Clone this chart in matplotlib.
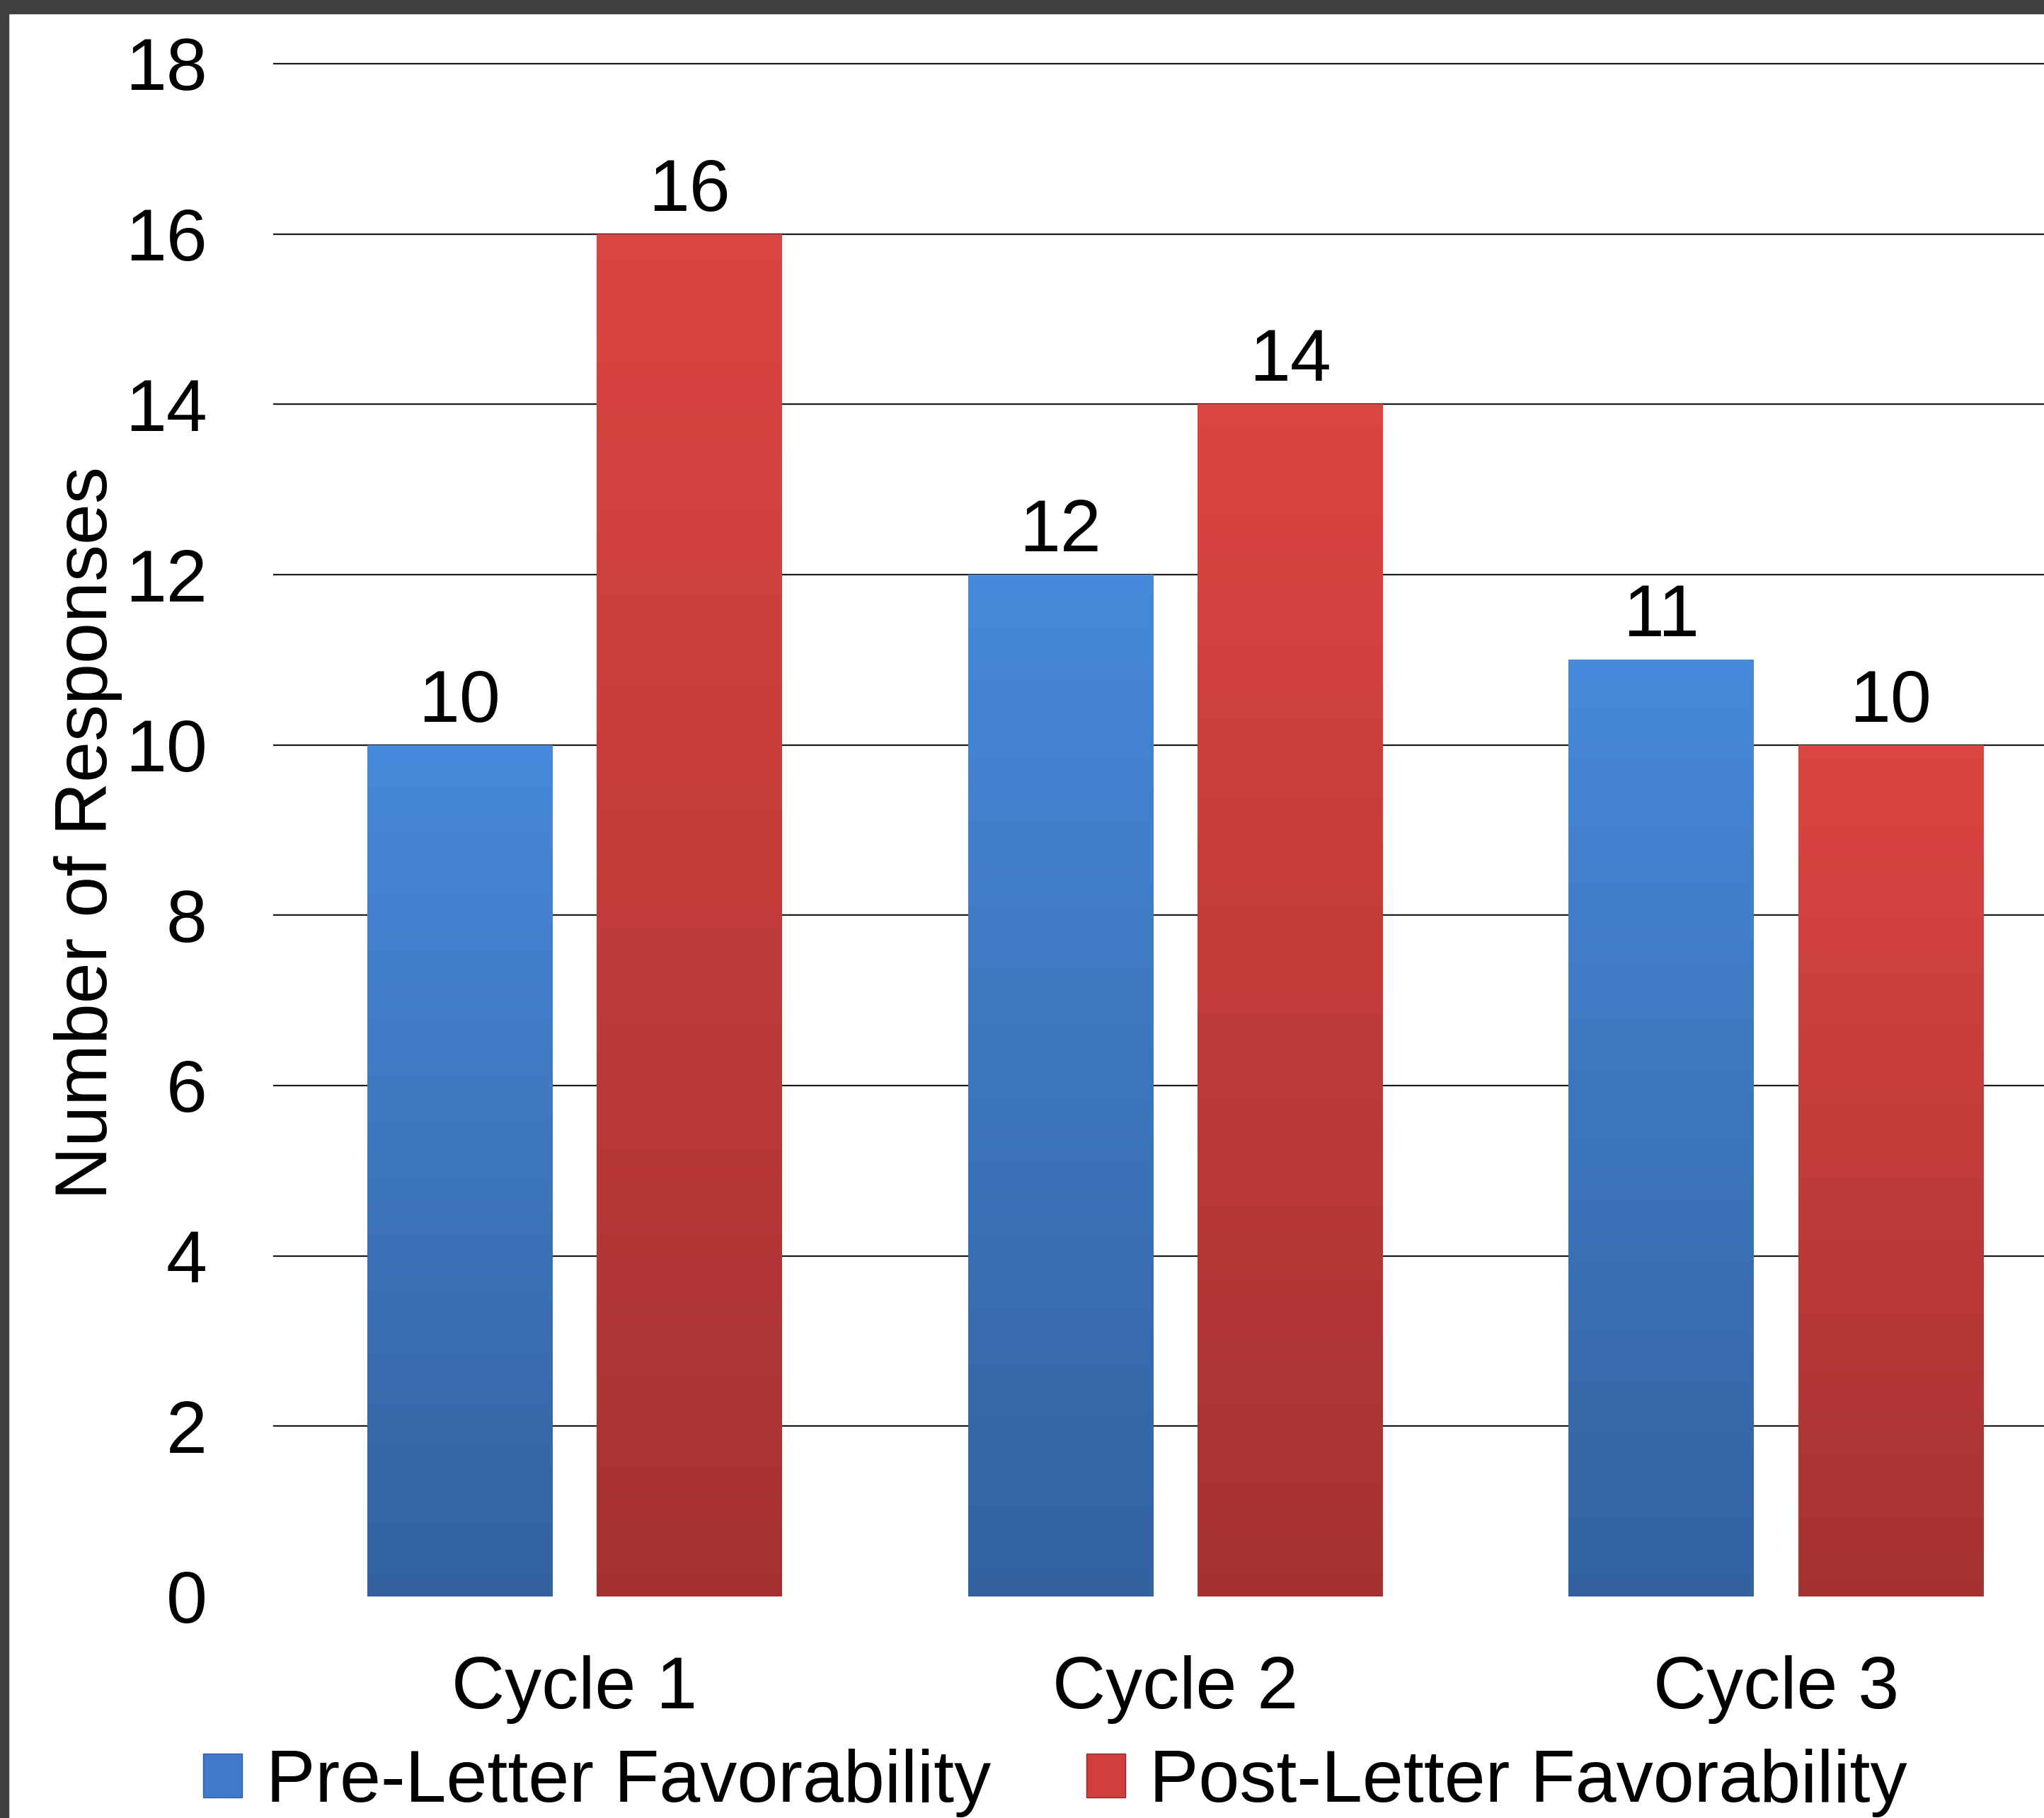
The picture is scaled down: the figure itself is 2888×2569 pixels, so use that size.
import numpy as np
import matplotlib.pyplot as plt
from matplotlib.colors import LinearSegmentedColormap
from matplotlib.patches import Rectangle, Patch

plt.rcParams['font.family'] = ['Liberation Sans', 'DejaVu Sans']

# data
cycles = ['Cycle 1', 'Cycle 2', 'Cycle 3']
pre_letter = [10, 12, 11]
post_letter = [16, 14, 10]
series_names = ['Pre-Letter Favorability', 'Post-Letter Favorability']
y_ticks = [0, 2, 4, 6, 8, 10, 12, 14, 16, 18]

W, H = 2888, 2569
fig = plt.figure(figsize=(W / 100, H / 100), dpi=100)
ax = fig.add_axes([387 / W, 313 / H, 1 - 387 / W, (2479 - 313) / H])

# colours (top, bottom of gradient)
blue_top, blue_bot = '#4789da', '#33629f'
red_top, red_bot = '#dc4541', '#a53232'

x = np.arange(len(cycles))
w = 0.308
off = 0.191
bars_pre = ax.bar(x - off, pre_letter, w, color='#3f7bc8', zorder=2)
bars_post = ax.bar(x + off, post_letter, w, color='#cf3f3c', zorder=2)

# vertical gradient inside every bar
grad = np.linspace(0, 1, 256).reshape(-1, 1)
for bars, (top, bot) in [(bars_pre, (blue_top, blue_bot)), (bars_post, (red_top, red_bot))]:
    cmap = LinearSegmentedColormap.from_list('g', [bot, top])
    for b in bars:
        bx, bw, bh = b.get_x(), b.get_width(), b.get_height()
        im = ax.imshow(grad, extent=[bx, bx + bw, 0, bh], origin='lower',
                       cmap=cmap, aspect='auto', zorder=2.5)
        im.set_clip_path(b)

# value labels
for bars in [bars_pre, bars_post]:
    ax.bar_label(bars, padding=8, fontsize=75, zorder=4)

ax.set_xlim(-0.5, 2.446)
ax.set_ylim(0, 18)
ax.set_yticks(y_ticks)
ax.set_xticks(x)
ax.set_xticklabels(cycles)
ax.tick_params(axis='both', length=0, labelsize=75)
ax.tick_params(axis='y', pad=68)
ax.tick_params(axis='x', pad=60)
for s in ax.spines.values():
    s.set_visible(False)

ax.grid(axis='y', color='#1a1a1a', lw=1.6, zorder=1)
ax.set_axisbelow(True)
gls = ax.yaxis.get_gridlines()
gls[0].set_visible(False)
for gl in gls:
    gl.set_clip_on(False)

fig.text(151 / W, 0.542, 'Number of Responses', rotation=90, rotation_mode='anchor',
         ha='center', va='baseline', fontsize=75)

handles = [Patch(facecolor='#3f7bc8', edgecolor='#2f5f9c'),
           Patch(facecolor='#cf3f3c', edgecolor='#8f2a2a')]
fig.legend(handles, series_names, loc='lower left', bbox_to_anchor=(287 / W, 1 / H),
           ncol=2, frameon=False, fontsize=75, handlelength=0.53, handleheight=0.53,
           handletextpad=0.32, columnspacing=1.3, borderpad=0, borderaxespad=0)

# dark frame at top and left edge
fig.add_artist(Rectangle((0, 1 - 19 / H), 1, 19 / H, transform=fig.transFigure,
                         color='#404040', zorder=10))
fig.add_artist(Rectangle((0, 0), 12 / W, 1, transform=fig.transFigure,
                         color='#404040', zorder=10))

fig.savefig('out.png', dpi=100)
